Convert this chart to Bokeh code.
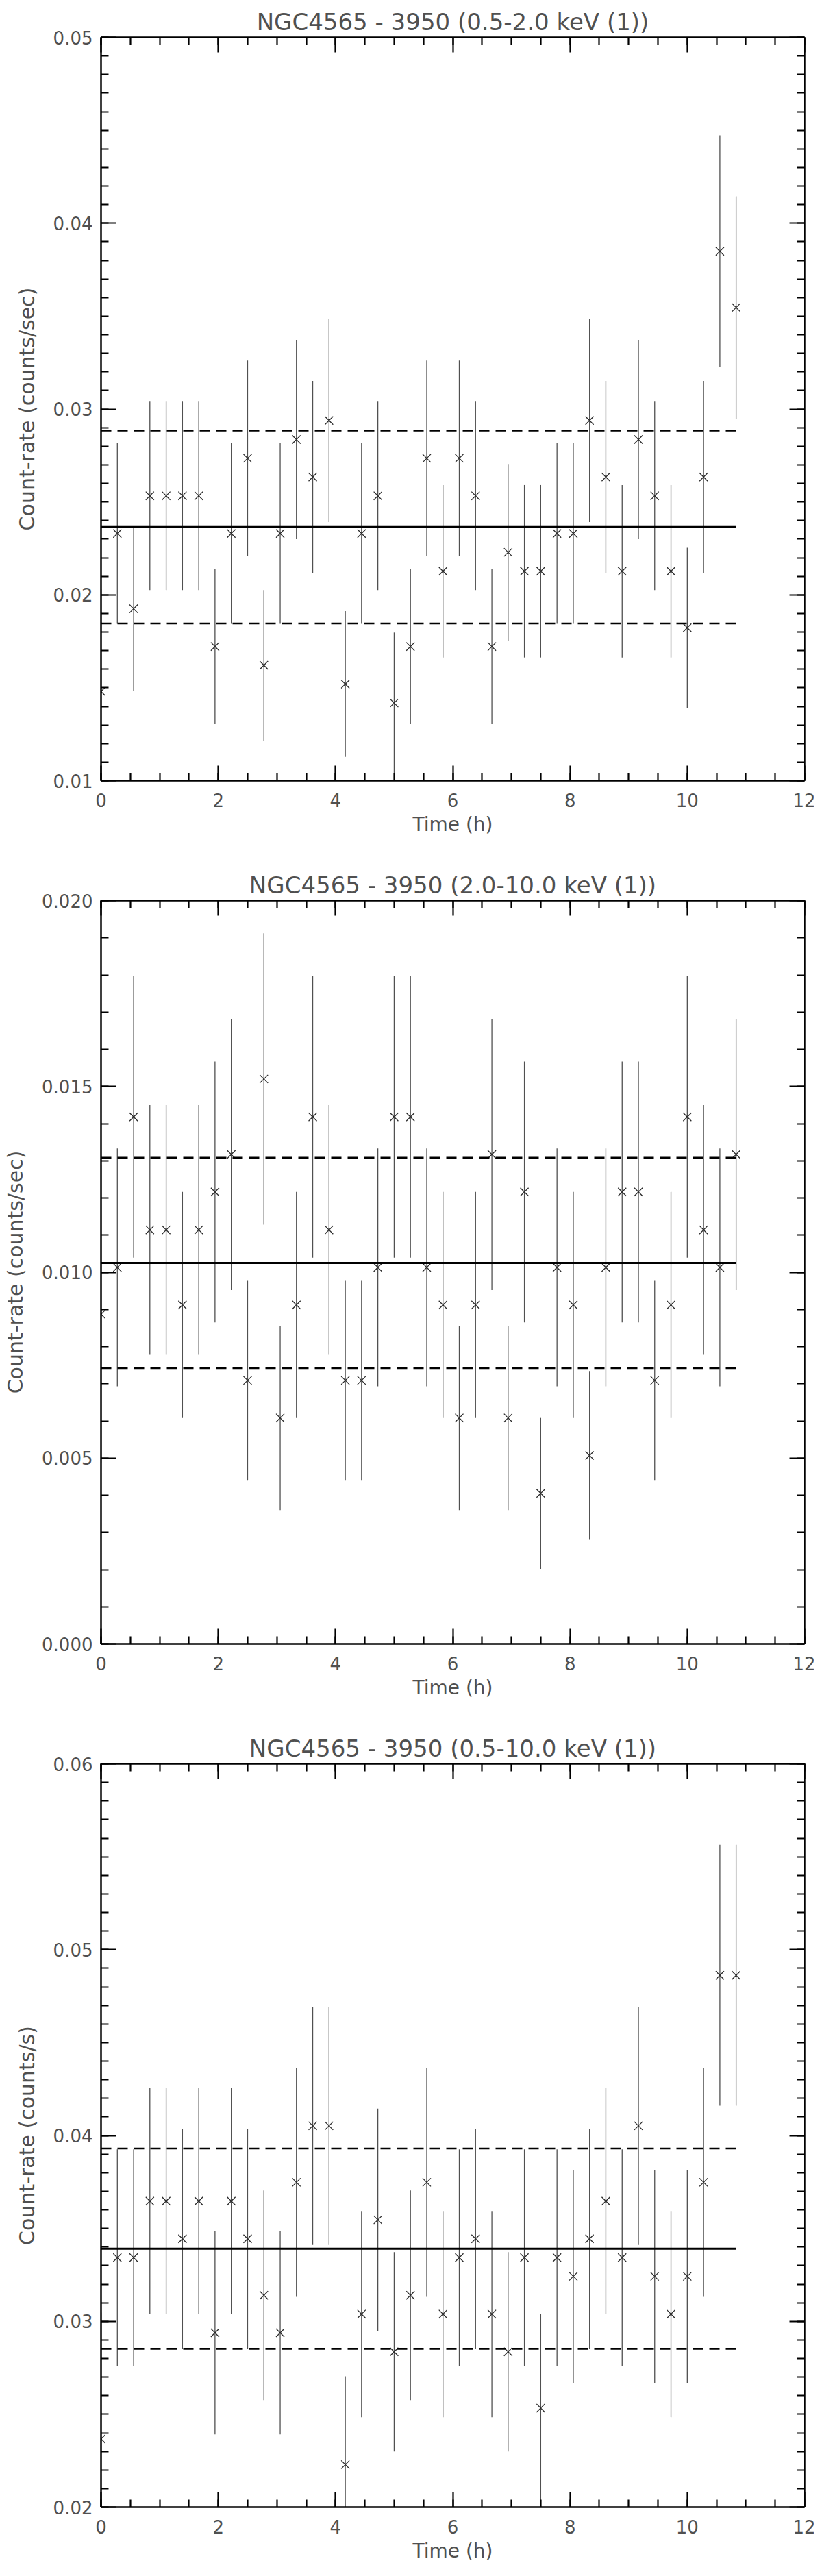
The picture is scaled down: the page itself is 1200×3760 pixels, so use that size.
from bokeh.plotting import figure
from bokeh.layouts import column
from bokeh.models import Range1d, LinearAxis, FixedTicker, NumeralTickFormatter, CustomJSTickFormatter
from bokeh.embed import file_html
from bokeh.resources import INLINE

# ---------------- data ----------------
time_h = [0.000, 0.278, 0.556, 0.833, 1.111, 1.389, 1.667, 1.944, 2.222, 2.500,
          2.778, 3.056, 3.333, 3.611, 3.889, 4.167, 4.444, 4.722, 5.000, 5.278,
          5.556, 5.833, 6.111, 6.389, 6.667, 6.944, 7.222, 7.500, 7.778, 8.056,
          8.333, 8.611, 8.889, 9.167, 9.444, 9.722, 10.000, 10.278, 10.556, 10.833]

rate_soft = [0.01480, 0.02330, 0.01925, 0.02533, 0.02533, 0.02533, 0.02533, 0.01722, 0.02330, 0.02735,
             0.01621, 0.02330, 0.02836, 0.02634, 0.02938, 0.01520, 0.02330, 0.02533, 0.01418, 0.01722,
             0.02735, 0.02127, 0.02735, 0.02533, 0.01722, 0.02229, 0.02127, 0.02127, 0.02330, 0.02330,
             0.02938, 0.02634, 0.02127, 0.02836, 0.02533, 0.02127, 0.01823, 0.02634, 0.03849, 0.03546]
err_soft = [0.00550, 0.00486, 0.00442, 0.00507, 0.00507, 0.00507, 0.00507, 0.00418, 0.00486, 0.00526,
            0.00405, 0.00486, 0.00536, 0.00517, 0.00546, 0.00392, 0.00486, 0.00507, 0.00379, 0.00418,
            0.00526, 0.00464, 0.00526, 0.00507, 0.00418, 0.00475, 0.00464, 0.00464, 0.00486, 0.00486,
            0.00546, 0.00517, 0.00464, 0.00536, 0.00507, 0.00464, 0.00430, 0.00517, 0.00624, 0.00599]

rate_hard = [0.00887, 0.01013, 0.01418, 0.01114, 0.01114, 0.00912, 0.01114, 0.01216, 0.01317, 0.00709,
             0.01520, 0.00608, 0.00912, 0.01418, 0.01114, 0.00709, 0.00709, 0.01013, 0.01418, 0.01418,
             0.01013, 0.00912, 0.00608, 0.00912, 0.01317, 0.00608, 0.01216, 0.00405, 0.01013, 0.00912,
             0.00507, 0.01013, 0.01216, 0.01216, 0.00709, 0.00912, 0.01418, 0.01114, 0.01013, 0.01317]
err_hard = [0.00400, 0.00320, 0.00379, 0.00336, 0.00336, 0.00304, 0.00336, 0.00351, 0.00365, 0.00268,
            0.00392, 0.00248, 0.00304, 0.00379, 0.00336, 0.00268, 0.00268, 0.00320, 0.00379, 0.00379,
            0.00320, 0.00304, 0.00248, 0.00304, 0.00365, 0.00248, 0.00351, 0.00203, 0.00320, 0.00304,
            0.00227, 0.00320, 0.00351, 0.00351, 0.00268, 0.00304, 0.00379, 0.00336, 0.00320, 0.00365]

rate_full = [0.02367, 0.03343, 0.03343, 0.03647, 0.03647, 0.03444, 0.03647, 0.02938, 0.03647, 0.03444,
             0.03140, 0.02938, 0.03748, 0.04052, 0.04052, 0.02229, 0.03039, 0.03546, 0.02836, 0.03140,
             0.03748, 0.03039, 0.03343, 0.03444, 0.03039, 0.02836, 0.03343, 0.02533, 0.03343, 0.03242,
             0.03444, 0.03647, 0.03343, 0.04052, 0.03242, 0.03039, 0.03242, 0.03748, 0.04862, 0.04862]
err_full = [0.00680, 0.00582, 0.00582, 0.00608, 0.00608, 0.00591, 0.00608, 0.00546, 0.00608, 0.00591,
            0.00564, 0.00546, 0.00616, 0.00641, 0.00641, 0.00475, 0.00555, 0.00599, 0.00536, 0.00564,
            0.00616, 0.00555, 0.00582, 0.00591, 0.00555, 0.00536, 0.00582, 0.00507, 0.00582, 0.00573,
            0.00591, 0.00608, 0.00582, 0.00641, 0.00573, 0.00555, 0.00573, 0.00616, 0.00702, 0.00702]

mean_soft, std_soft = 0.02365, 0.00519
mean_hard, std_hard = 0.01025, 0.00283
mean_full, std_full = 0.03391, 0.00539

titles = ["NGC4565 - 3950 (0.5-2.0 keV (1))",
          "NGC4565 - 3950 (2.0-10.0 keV (1))",
          "NGC4565 - 3950 (0.5-10.0 keV (1))"]
ylabels = ["Count-rate (counts/sec)", "Count-rate (counts/sec)", "Count-rate (counts/s)"]
xlabel = "Time (h)"

x_major = [0, 2, 4, 6, 8, 10, 12]
y_major_soft = [0.01, 0.02, 0.03, 0.04, 0.05]
y_major_hard = [0.000, 0.005, 0.010, 0.015, 0.020]
y_major_full = [0.02, 0.03, 0.04, 0.05, 0.06]

FONT = "DejaVu Sans"
TXT = "#505050"


def style_axis(ax, ticks, minor, labels, fmt=None, major_len=22, minor_len=11):
    ax.ticker = FixedTicker(ticks=ticks, minor_ticks=minor)
    ax.axis_line_width = 2.5
    ax.axis_line_color = "black"
    ax.major_tick_line_width = 2.2
    ax.minor_tick_line_width = 2.2
    ax.major_tick_line_color = "black"
    ax.minor_tick_line_color = "black"
    ax.major_tick_in = major_len
    ax.major_tick_out = 0
    ax.minor_tick_in = minor_len
    ax.minor_tick_out = 0
    if labels:
        ax.major_label_text_font = FONT
        ax.major_label_text_font_size = "26px"
        ax.major_label_text_color = TXT
        if fmt is not None:
            ax.formatter = fmt
    else:
        ax.formatter = CustomJSTickFormatter(code="return ''")
        ax.major_label_standoff = 0
        ax.major_label_text_font_size = "1px"


def make_panel(title, ylabel, rate, err, mean, std, yr, ymajor, yminor, yfmt, bottom):
    p = figure(frame_width=1027, frame_height=1085,
               x_range=Range1d(0, 12), y_range=Range1d(*yr),
               output_backend="svg", toolbar_location=None,
               min_border_left=147, min_border_right=16, min_border_top=54,
               min_border_bottom=bottom)
    p.outline_line_color = None
    p.xgrid.grid_line_color = None
    p.ygrid.grid_line_color = None
    p.background_fill_color = "white"
    p.border_fill_color = "white"

    p.title.text = title
    p.title.align = "center"
    p.title.text_font = FONT
    p.title.text_font_size = "34px"
    p.title.text_font_style = "normal"
    p.title.text_color = TXT
    p.title.standoff = 5

    x_minor = [m * 0.5 for m in range(0, 25)]
    style_axis(p.xaxis[0], x_major, x_minor, True)
    p.xaxis[0].major_label_standoff = 18
    p.xaxis[0].axis_label = xlabel
    p.xaxis[0].axis_label_text_font = FONT
    p.xaxis[0].axis_label_text_font_size = "28px"
    p.xaxis[0].axis_label_text_font_style = "normal"
    p.xaxis[0].axis_label_text_color = TXT
    p.xaxis[0].axis_label_standoff = 6

    style_axis(p.yaxis[0], ymajor, yminor, True, yfmt)
    p.yaxis[0].major_label_standoff = 12
    p.yaxis[0].axis_label = ylabel
    p.yaxis[0].axis_label_text_font = FONT
    p.yaxis[0].axis_label_text_font_size = "30px"
    p.yaxis[0].axis_label_text_font_style = "normal"
    p.yaxis[0].axis_label_text_color = TXT
    p.yaxis[0].axis_label_standoff = 18

    top = LinearAxis()
    style_axis(top, x_major, x_minor, False)
    p.add_layout(top, "above")
    right = LinearAxis()
    style_axis(right, ymajor, yminor, False)
    p.add_layout(right, "right")

    lo = [r - e for r, e in zip(rate, err)]
    hi = [r + e for r, e in zip(rate, err)]
    p.segment(x0=time_h, y0=lo, x1=time_h, y1=hi, line_color="#505050", line_width=1.3)
    p.scatter(time_h, rate, marker="x", size=17, line_color="#2a2a2a", line_width=1.3)

    xs = [time_h[0], time_h[-1]]
    p.line(xs, [mean, mean], line_color="black", line_width=3)
    p.line(xs, [mean + std, mean + std], line_color="black", line_width=2.6, line_dash="15 9")
    p.line(xs, [mean - std, mean - std], line_color="black", line_width=2.6, line_dash="15 9")
    return p


def minor_list(lo, hi, step):
    n = int(round((hi - lo) / step))
    return [round(lo + k * step, 4) for k in range(n + 1)]


p1 = make_panel(titles[0], ylabels[0], rate_soft, err_soft, mean_soft, std_soft,
                (0.01, 0.05), y_major_soft, minor_list(0.01, 0.05, 0.001),
                NumeralTickFormatter(format="0.00"), 121)
p2 = make_panel(titles[1], ylabels[1], rate_hard, err_hard, mean_hard, std_hard,
                (0.0, 0.02), y_major_hard, minor_list(0.0, 0.02, 0.001),
                NumeralTickFormatter(format="0.000"), 121)
p3 = make_panel(titles[2], ylabels[2], rate_full, err_full, mean_full, std_full,
                (0.02, 0.06), y_major_full, minor_list(0.02, 0.06, 0.001),
                NumeralTickFormatter(format="0.00"), 89)

layout = column(p1, p2, p3, spacing=0)
open("out.html", "w").write(file_html(layout, INLINE))
